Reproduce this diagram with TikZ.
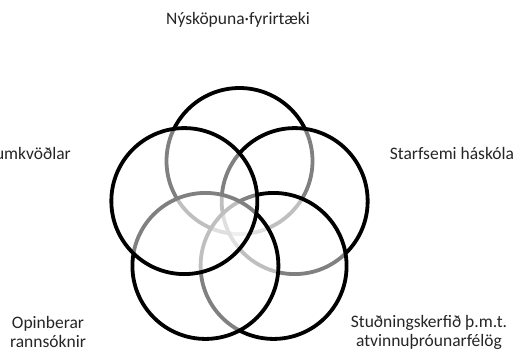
\documentclass[tikz,border=0pt]{standalone}
\usepackage{fontspec}
\setmainfont{Carlito}
\usetikzlibrary{calc}
\begin{document}
\begin{tikzpicture}[x=1pt,y=-1pt,
  ring/.style={line width=3.8pt,draw=black},
  ringfill/.style={fill=white,fill opacity=0.5},
  lbl/.style={inner sep=0pt,align=center,text=black!85,font=\fontsize{17.5}{19}\selectfont}]
\useasboundingbox (0,0) rectangle (518,349);
\clip (0,0) rectangle (518,349);
\fill[white] (0,0) rectangle (518,349);
% centres of the five circles (regular pentagon)
\coordinate (c0) at (239.5,219);
\foreach \n/\a in {ctop/90,cright/18,cbr/-54,cbl/-126,cleft/162}{
  \coordinate (\n) at ($(c0)+(\a:58 and -58)$);
}
\foreach \n in {ctop,cright,cbr,cbl,cleft}{
  \fill[ringfill] (\n) circle (73);
  \draw[ring] (\n) circle (73);
}
\node[lbl] (t1) at (238,20) {Nýsköpuna·fyrirtæki};
\node[lbl,anchor=east] (t2) at (71,153) {Frumkvöðlar};
\node[lbl] (t3) at (452,153) {Starfsemi háskóla};
\node[lbl] (t4) at (48,332) {Opinberar\\rannsóknir};
\node[lbl] (t5) at (429,332) {Stuðningskerfið þ.m.t.\\atvinnuþróunarfélög};
\end{tikzpicture}
\end{document}
